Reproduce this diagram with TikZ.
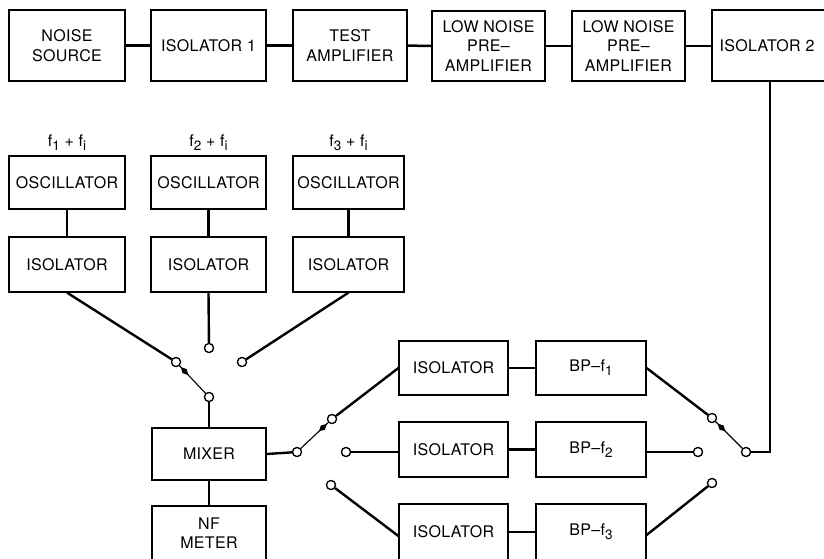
\documentclass[tikz,border=0pt]{standalone}
\usepackage{fontspec}
\setmainfont{TeX Gyre Heros}[LetterSpace=2]
\usetikzlibrary{calc,shapes.geometric}
\newcommand\sbs[1]{\raisebox{-0.5ex}{\fontsize{13.5}{13.5}\selectfont #1}}
\begin{document}
\begin{tikzpicture}[x=1pt,y=-1pt,
  blk/.style={draw, line width=1.2pt, inner sep=0pt, align=center,
    font=\fontsize{16}{19.5}\selectfont},
  conn/.style={line width=2.5pt},
  wire/.style={line width=2.4pt},
  lever/.style={line width=1.1pt},
  kite/.style={diamond, fill=black, draw=none, inner sep=0pt, minimum width=11pt, minimum height=6pt},
  contact/.style={circle, draw, fill=white, line width=1.2pt, minimum size=9pt, inner sep=0pt},
  lbl/.style={font=\fontsize{16}{19.5}\selectfont, inner sep=0pt}]
\useasboundingbox (0,0) rectangle (824,558);
\clip (0,0) rectangle (824,558);
% top row
\node[blk, minimum width=116, minimum height=71] (ns) at (67,45.5) {NOISE\\SOURCE};
\node[blk, minimum width=115, minimum height=71] (isoA) at (208.5,45.5) {ISOLATOR 1};
\node[blk, minimum width=114, minimum height=71] (test) at (350,45.5) {TEST\\AMPLIFIER};
\node[blk, minimum width=113, minimum height=70] (lnp1) at (488.5,46) {LOW NOISE\\PRE–\\AMPLIFIER};
\node[blk, minimum width=113, minimum height=70] (lnp2) at (628.5,46) {LOW NOISE\\PRE–\\AMPLIFIER};
\node[blk, minimum width=116, minimum height=71] (isoB) at (770,45.5) {ISOLATOR 2\hspace*{6pt}};
\draw[conn] (ns) -- (isoA);
\draw[conn] (isoA) -- (test);
\draw[conn] (test) -- (lnp1);
\draw[conn] (lnp1) -- (lnp2);
\draw[conn] (lnp2) -- (isoB.west |- lnp2.east);
% oscillators
\node[blk, minimum width=116, minimum height=53] (osc1) at (67,182.5) {OSCILLATOR};
\node[blk, minimum width=115, minimum height=53] (osc2) at (208.5,182.5) {OSCILLATOR};
\node[blk, minimum width=111, minimum height=53] (osc3) at (348.5,182.5) {OSCILLATOR};
\node[lbl] (l1) at (67,143) {f\sbs{1} + f\sbs{i}};
\node[lbl] (l2) at (208.5,143) {f\sbs{2} + f\sbs{i}};
\node[lbl] (l3) at (348.5,143) {f\sbs{3} + f\sbs{i}};
\node[blk, minimum width=116, minimum height=55] (iso1) at (67,264.5) {ISOLATOR};
\node[blk, minimum width=115, minimum height=55] (iso2) at (208.5,264.5) {ISOLATOR};
\node[blk, minimum width=111, minimum height=55] (iso3) at (348.5,264.5) {ISOLATOR};
\draw[wire] (osc1) -- (iso1);
\draw[wire] (osc2) -- (iso2);
\draw[wire] (osc3) -- (iso3);
% mixer and NF meter
\node[blk, minimum width=114, minimum height=52] (mix) at (209,454) {MIXER};
\node[blk, minimum width=114, minimum height=54] (nf) at (209,533) {NF\\METER};
\draw[wire] (mix) -- (nf);
% right branches
\node[blk, minimum width=109, minimum height=54] (r1) at (453.5,368) {ISOLATOR};
\node[blk, minimum width=109, minimum height=55] (r2) at (453.5,449.5) {ISOLATOR};
\node[blk, minimum width=109, minimum height=56] (r3) at (453.5,532) {ISOLATOR};
\node[blk, minimum width=110, minimum height=54] (bp1) at (591,368) {BP–f\sbs{1}};
\node[blk, minimum width=110, minimum height=55] (bp2) at (591,449.5) {BP–f\sbs{2}};
\node[blk, minimum width=110, minimum height=56] (bp3) at (591,532) {BP–f\sbs{3}};
\draw[conn] (r1) -- (bp1);
\draw[conn] (r2) -- (bp2);
\draw[conn] (r3) -- (bp3);
% switch contacts
\node[contact] (c1) at (176,362) {};
\node[contact] (c2) at (209,348) {};
\node[contact] (c3) at (242,362) {};
\node[contact] (pA) at (209,397) {};
\node[contact] (pB) at (297,452) {};
\node[contact] (b1) at (332,419) {};
\node[contact] (b2) at (346,452) {};
\node[contact] (b3) at (331,485) {};
\node[contact] (pC) at (746,452) {};
\node[contact] (q1) at (712,418) {};
\node[contact] (q2) at (698,452) {};
\node[contact] (q3) at (712,483) {};
% wiring
\draw[wire] (iso1.south) -- (c1);
\draw[wire] (iso2.south) -- (c2);
\draw[wire] (iso3.south) -- (c3);
\draw[wire] (pA) -- (mix.north);
\draw[wire] (mix.east) -- (pB);
\draw[wire] (b1) -- (r1.west);
\draw[wire] (b2) -- (b2 -| r2.west);
\draw[wire] (b3) -- ([yshift=-4pt]r3.west);
\draw[wire] (bp1.east) -- (q1);
\draw[wire] (bp2.east |- q2) -- (q2);
\draw[wire] ([yshift=-3pt]bp3.east) -- (q3);
\draw[wire] (pC) -- (770,452) coordinate (k) -- (k |- isoB.south);
% levers with markers
\draw[lever] (pA) -- (c1);
\draw[lever] (pB) -- (b1);
\draw[lever] (pC) -- (q1);
\node[kite, rotate=-47] (kA) at ($(pA)!0.74!(c1)$) {};
\node[kite, rotate=43] (kB) at ($(pB)!0.74!(b1)$) {};
\node[kite, rotate=-45] (kC) at ($(pC)!0.72!(q1)$) {};
% redraw contacts on top
\foreach \n in {c1,c2,c3,pA,pB,b1,b2,b3,pC,q1,q2,q3}
  \draw[fill=white, line width=1.2pt] (\n) circle (4.5pt);
\end{tikzpicture}
\end{document}
